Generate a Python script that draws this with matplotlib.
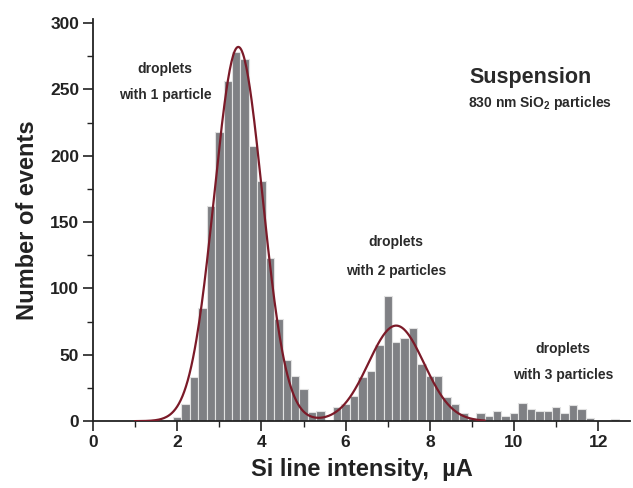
import numpy as np
import matplotlib
matplotlib.use("Agg")
import matplotlib.pyplot as plt
from matplotlib.ticker import MultipleLocator

plt.rcParams['font.family'] = ['Liberation Sans', 'DejaVu Sans']
plt.rcParams['font.weight'] = 'bold'
plt.rcParams['mathtext.fontset'] = 'custom'
plt.rcParams['mathtext.bf'] = 'Liberation Sans:bold'
plt.rcParams['mathtext.rm'] = 'Liberation Sans:bold'

# Histogram bins (centers, µA) and counts
bin_centers = [2.0, 2.2, 2.4, 2.6, 2.8, 3.0, 3.2, 3.4, 3.6, 3.8,
               4.0, 4.2, 4.4, 4.6, 4.8, 5.0, 5.2, 5.4, 5.6, 5.8,
               6.0, 6.2, 6.4, 6.6, 6.8, 7.0, 7.2, 7.4, 7.6, 7.8,
               8.0, 8.2, 8.4, 8.6, 8.8, 9.0, 9.2, 9.4, 9.6, 9.8,
               10.0, 10.2, 10.4, 10.6, 10.8, 11.0, 11.2, 11.4, 11.6, 11.8,
               12.0, 12.2, 12.4]
counts = [3, 13, 33, 85, 162, 218, 256, 278, 273, 207,
          181, 123, 77, 46, 34, 24.5, 7, 8, 0, 11,
          13, 19, 33, 38, 57, 94, 60, 63, 70, 43,
          34, 34, 18, 13, 6, 2, 6.5, 3.5, 8, 4,
          6.5, 14, 9, 7.5, 7.5, 11, 6.5, 12, 9, 2.5,
          0, 0, 1.5]
bin_width = 0.2

# Two-Gaussian fit parameters (amplitude, center, sigma)
fit_amp = [282, 72]
fit_mu = [3.45, 7.2]
fit_sigma = [0.57, 0.66]
fit_range = [1.0, 9.3]

xticks = [0, 2, 4, 6, 8, 10, 12]
yticks = [0, 50, 100, 150, 200, 250, 300]

fig = plt.figure(figsize=(6.33, 4.88), dpi=100)
ax = fig.add_axes([0.147, 0.137, 0.848, 0.824])

ax.bar(bin_centers, counts, width=bin_width, color='#7f8084',
       edgecolor='#e2e2e2', linewidth=0.8, zorder=2)

xf = np.linspace(fit_range[0], fit_range[1], 400)
yf = np.zeros_like(xf)
for a, m, s in zip(fit_amp, fit_mu, fit_sigma):
    yf += a * np.exp(-(xf - m) ** 2 / (2 * s ** 2))
ax.plot(xf, yf, color='#7b1a28', linewidth=1.6, zorder=3)

ax.set_xlim(0, 12.75)
ax.set_ylim(0, 303)
ax.set_xticks(xticks)
ax.set_yticks(yticks)
ax.xaxis.set_minor_locator(MultipleLocator(1))
ax.yaxis.set_minor_locator(MultipleLocator(25))
for s in ['top', 'right']:
    ax.spines[s].set_visible(False)
for s in ['left', 'bottom']:
    ax.spines[s].set_linewidth(1.3)
    ax.spines[s].set_color('#222222')
ax.tick_params(which='major', direction='out', length=7, width=1.2,
               labelsize=12.5, colors='#222222', pad=3)
ax.tick_params(which='minor', direction='out', length=4, width=1.0, colors='#222222')
for lab in ax.get_xticklabels() + ax.get_yticklabels():
    lab.set_fontweight('bold')

ax.set_xlabel('Si line intensity,  µA', fontsize=17, fontweight='bold',
              color='#222222', labelpad=6)
ax.set_ylabel('Number of events', fontsize=17, fontweight='bold',
              color='#222222', labelpad=8)

tc = '#2a2a2a'
fs = 10
ax.text(1.71, 265, 'droplets', ha='center', va='center', fontsize=fs, fontweight='bold', color=tc)
ax.text(1.71, 246, 'with 1 particle', ha='center', va='center', fontsize=fs, fontweight='bold', color=tc)
ax.text(7.2, 135, 'droplets', ha='center', va='center', fontsize=fs, fontweight='bold', color=tc)
ax.text(7.2, 113.5, 'with 2 particles', ha='center', va='center', fontsize=fs, fontweight='bold', color=tc)
ax.text(11.16, 54, 'droplets', ha='center', va='center', fontsize=fs, fontweight='bold', color=tc)
ax.text(11.16, 35, 'with 3 particles', ha='center', va='center', fontsize=fs, fontweight='bold', color=tc)
ax.text(10.4, 259, 'Suspension', ha='center', va='center', fontsize=15.5, fontweight='bold', color=tc)
ax.text(10.62, 240, r'830 nm SiO$_\mathbf{2}$ particles', ha='center', va='center',
        fontsize=10, fontweight='bold', color=tc)

fig.savefig('out.png', dpi=100)
